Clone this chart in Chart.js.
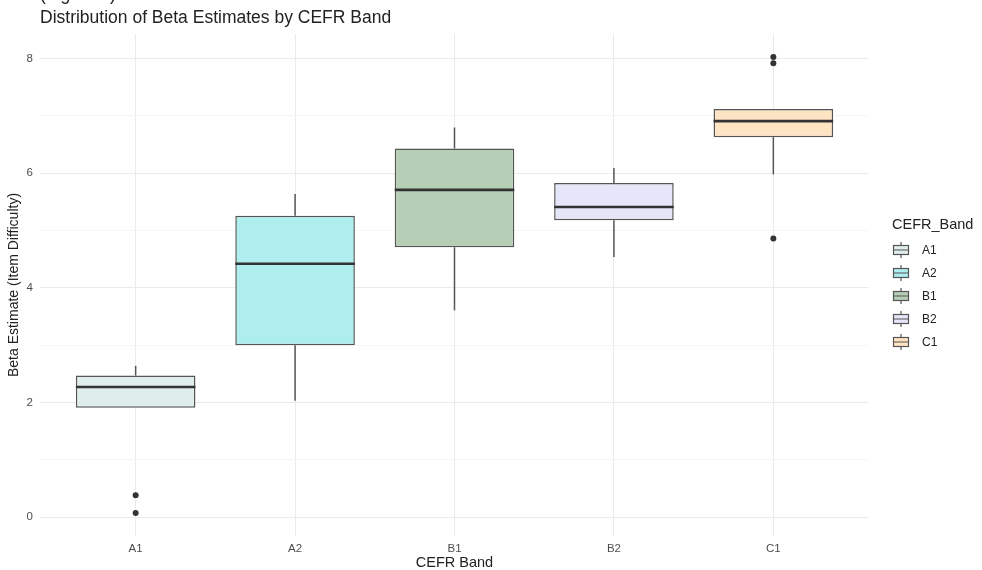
<!DOCTYPE html>
<html>
<head>
<meta charset="utf-8">
<script src="https://cdn.jsdelivr.net/npm/chart.js@4.4.1/dist/chart.umd.min.js"></script>
<style>
  body { margin: 0; background: #fff; font-family: "Liberation Sans", Arial, sans-serif; }
  #wrap { position: relative; width: 982px; height: 570px; overflow: hidden; }
  #chart { position: absolute; left: 0; top: 0; }
  .cut { position: absolute; left: 40px; top: -16px; font-size: 17.5px; color: #222; }
  .title { position: absolute; left: 40px; top: 7px; font-size: 17.5px; color: #222; }
  #legend { position: absolute; left: 892px; top: 216px; }
  #legend .ttl { font-size: 14.5px; color: #222; margin-bottom: 6px; }
  #legend .item { display: flex; align-items: center; height: 23px; font-size: 12px; color: #222; }
  #legend canvas { margin-right: 12px; }
</style>
</head>
<body>
<div id="wrap">
  <canvas id="chart" width="982" height="570"></canvas>
  <div class="cut">(Figure 1)</div>
  <div class="title">Distribution of Beta Estimates by CEFR Band</div>
  <div id="legend"><div class="ttl">CEFR_Band</div></div>
</div>
<script>
const bands = ['A1', 'A2', 'B1', 'B2', 'C1'];
const q1 = [1.91, 3.00, 4.71, 5.18, 6.63];
const median = [2.27, 4.42, 5.71, 5.41, 6.91];
const q3 = [2.47, 5.26, 6.43, 5.83, 7.12];
const whiskerLow = [1.91, 2.03, 3.61, 4.54, 5.98];
const whiskerHigh = [2.64, 5.64, 6.80, 6.09, 7.12];
const outliers = [[0.38, 0.07], [], [], [], [8.03, 7.92, 4.86]];
const yTicks = [0, 2, 4, 6, 8];
const fills = ['#DFEDEC', '#AFEEEE', '#B5CEB6', '#E6E6FA', '#FFE4C4'];

const lineColor = '#555555';

// whiskers + median lines on top of the floating bars
const boxExtras = {
    id: 'boxExtras',
    afterDatasetsDraw(chart) {
        const ctx = chart.ctx;
        const x = chart.scales.x;
        const y = chart.scales.y;
        const bars = chart.getDatasetMeta(0).data;
        ctx.save();
        bands.forEach((b, i) => {
            const cx = x.getPixelForValue(i + 1);
            const w = bars[i].width;
            ctx.strokeStyle = lineColor;
            ctx.lineWidth = 1.5;
            ctx.beginPath();
            ctx.moveTo(cx, y.getPixelForValue(q3[i]));
            ctx.lineTo(cx, y.getPixelForValue(whiskerHigh[i]));
            ctx.moveTo(cx, y.getPixelForValue(q1[i]));
            ctx.lineTo(cx, y.getPixelForValue(whiskerLow[i]));
            ctx.stroke();
            ctx.strokeStyle = '#333333';
            ctx.lineWidth = 2.6;
            ctx.beginPath();
            ctx.moveTo(cx - w / 2, y.getPixelForValue(median[i]));
            ctx.lineTo(cx + w / 2, y.getPixelForValue(median[i]));
            ctx.stroke();
        });
        ctx.restore();
    }
};

const outlierPoints = [];
outliers.forEach((list, i) => list.forEach(v => outlierPoints.push({ x: i + 1, y: v })));

new Chart(document.getElementById('chart'), {
    type: 'bar',
    data: {
        datasets: [{
            type: 'bar',
            data: bands.map((b, i) => ({ x: i + 1, y: [q1[i], q3[i]] })),
            backgroundColor: fills,
            borderColor: lineColor,
            borderWidth: 1.5,
            borderSkipped: false,
            barPercentage: 0.75,
            categoryPercentage: 1
        }, {
            type: 'scatter',
            data: outlierPoints,
            backgroundColor: '#333333',
            borderWidth: 0,
            pointRadius: 3
        }]
    },
    options: {
        responsive: false,
        animation: false,
        layout: { padding: { top: 34, right: 113, left: 0, bottom: 0 } },
        plugins: { legend: { display: false }, tooltip: { enabled: false } },
        scales: {
            x: {
                type: 'linear',
                min: 0.4,
                max: 5.6,
                offset: false,
                afterFit: s => { s.height = 34; },
                ticks: {
                    stepSize: 1,
                    includeBounds: false,
                    padding: 6,
                    color: '#4D4D4D',
                    font: { family: 'Liberation Sans', size: 11.5 },
                    callback: v => bands[v - 1] || ''
                },
                grid: { color: '#EBEBEB', lineWidth: 1, drawTicks: false, offset: false },
                border: { display: false },
                title: {
                    display: true,
                    text: 'CEFR Band',
                    color: '#222',
                    font: { family: 'Liberation Sans', size: 14.5, lineHeight: 1 },
                    padding: { top: 0, bottom: 0 }
                }
            },
            y: {
                min: -0.33,
                max: 8.43,
                afterFit: s => { s.width = 40; },
                ticks: {
                    stepSize: 1,
                    includeBounds: false,
                    padding: 7,
                    color: '#4D4D4D',
                    font: { family: 'Liberation Sans', size: 11.5 },
                    callback: v => yTicks.includes(v) ? String(v) : ''
                },
                grid: {
                    color: c => yTicks.includes(c.tick.value) ? '#EBEBEB' : '#F6F6F6',
                    lineWidth: 1,
                    drawTicks: false
                },
                border: { display: false },
                title: {
                    display: true,
                    text: 'Beta Estimate (Item Difficulty)',
                    color: '#222',
                    font: { family: 'Liberation Sans', size: 14 },
                    padding: { top: 6, bottom: 0 }
                }
            }
        }
    },
    plugins: [boxExtras]
});

// legend with small boxplot keys
const legend = document.getElementById('legend');
bands.forEach((b, i) => {
    const item = document.createElement('div');
    item.className = 'item';
    const key = document.createElement('canvas');
    key.width = 18;
    key.height = 18;
    const k = key.getContext('2d');
    k.fillStyle = fills[i];
    k.fillRect(1.5, 4.5, 15, 9);
    k.strokeStyle = lineColor;
    k.lineWidth = 1.2;
    k.strokeRect(1.5, 4.5, 15, 9);
    k.beginPath();
    k.moveTo(9, 1); k.lineTo(9, 4.5);
    k.moveTo(9, 13.5); k.lineTo(9, 17);
    k.moveTo(1.5, 9); k.lineTo(16.5, 9);
    k.stroke();
    item.appendChild(key);
    item.appendChild(document.createTextNode(b));
    legend.appendChild(item);
});
</script>
</body>
</html>
